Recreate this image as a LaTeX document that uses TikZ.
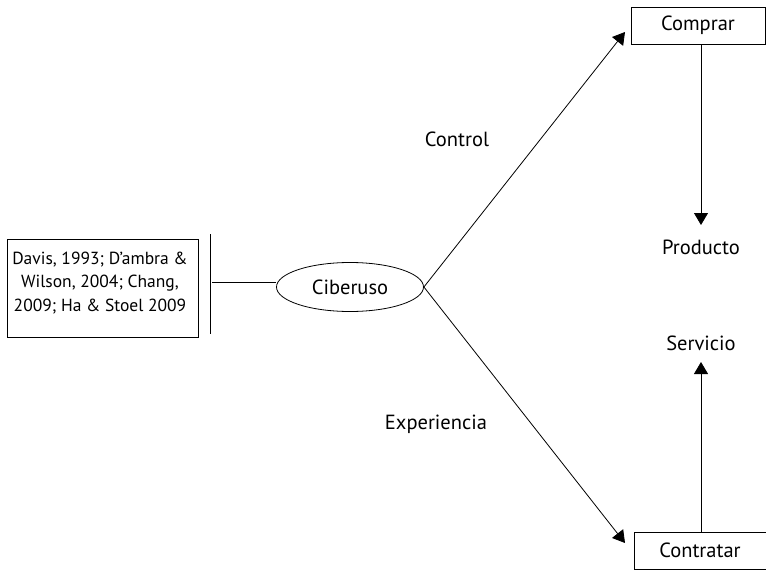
\documentclass[tikz,border=0pt]{standalone}
\usepackage{fontspec}
\setmainfont{PT Sans}
\usetikzlibrary{shapes.geometric,arrows.meta}
\begin{document}
\begin{tikzpicture}[x=1pt,y=-1pt,
  lbl/.style={font=\fontsize{20.5}{24}\selectfont, inner sep=0pt},
  box/.style={draw, line width=0.8pt, minimum height=37pt, inner sep=0pt, font=\fontsize{20.5}{24}\selectfont},
  conn/.style={line width=0.8pt},
  arr/.style={line width=0.8pt, -{Triangle[length=12pt,width=14pt]}}]
\useasboundingbox (0,0) rectangle (766,570);
\node[draw, line width=0.8pt, minimum width=191pt, minimum height=98pt, inner sep=0pt] (refs) at (102.5,288) {};
\node[align=center, font=\fontsize{17.5}{23.5}\selectfont, inner sep=0pt] (reftxt) at (100,283) {Davis, 1993; D’ambra \&\\Wilson, 2004; Chang,\\2009; Ha \& Stoel 2009};
\coordinate (vt) at (210,234);
\coordinate (vb) at (210,334);
\draw[conn] (vt) -- (vb);
\node[ellipse, draw, line width=0.8pt, minimum width=147pt, minimum height=49pt, inner sep=0pt, font=\fontsize{20.5}{24}\selectfont] (cib) at (350,287) {Ciberuso};
\coordinate (hl) at (212,282);
\draw[conn] (hl) -- (hl -| cib.west);
\node[box, minimum width=134pt] (comprar) at (698,25.5) {Comprar};
\node[box, minimum width=132pt] (contratar) at (700,550.5) {Contratar};
\node[lbl] (producto) at (701,247) {Producto};
\node[lbl] (servicio) at (701,343) {Servicio};
\node[lbl] (control) at (457,139) {Control};
\node[lbl] (exp) at (436,424) {Experiencia};
\coordinate (tc) at (625,32);
\coordinate (tk) at (625,543);
\draw[arr] (cib.east) -- (tc);
\draw[arr] (cib.east) -- (tk);
\draw[arr] (comprar.south -| 701,0) -- (701,225);
\draw[arr] (contratar.north -| 701,0) -- (701,362);
\end{tikzpicture}
\end{document}
